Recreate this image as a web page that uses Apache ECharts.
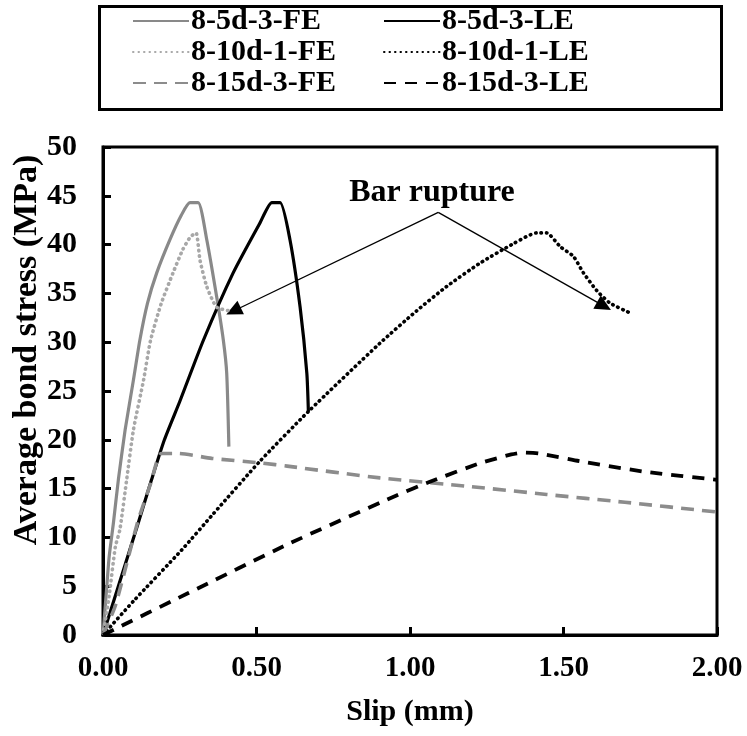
<!DOCTYPE html>
<html>
<head>
<meta charset="utf-8">
<script src="https://cdn.jsdelivr.net/npm/echarts@6/dist/echarts.min.js"></script>
<style>html,body{margin:0;padding:0;background:#fff;}#c{width:747px;height:736px;}</style>
</head>
<body>
<div id="c"></div>
<script>
// ---- Data (slip in mm, average bond stress in MPa) ----
const names = ['8-5d-3-FE', '8-5d-3-LE', '8-10d-1-FE', '8-10d-1-LE', '8-15d-3-FE', '8-15d-3-LE'];

const slip_5d_FE   = [0, 0.01, 0.02, 0.034, 0.05, 0.072, 0.099, 0.12, 0.145, 0.175, 0.218, 0.255, 0.283, 0.31, 0.338, 0.37, 0.392, 0.403, 0.41];
const stress_5d_FE = [0, 4, 8, 11.5, 15.9, 21.0, 26.1, 30.2, 34.0, 37.1, 40.5, 43.0, 44.3, 44.3, 40.5, 34.7, 30.2, 26.8, 19.3];

const slip_5d_LE   = [0, 0.05, 0.115, 0.158, 0.2, 0.251, 0.327, 0.424, 0.511, 0.55, 0.577, 0.609, 0.642, 0.664, 0.669];
const stress_5d_LE = [0, 5, 11.5, 15.9, 20.0, 24.0, 30.2, 37.1, 42.2, 44.3, 44.3, 40.5, 33.6, 26.8, 22.9];

const slip_10d_FE   = [0, 0.02, 0.04, 0.055, 0.077, 0.099, 0.132, 0.155, 0.19, 0.228, 0.26, 0.285, 0.303, 0.316, 0.338, 0.37, 0.414];
const stress_10d_FE = [0, 4, 9, 10.8, 15.9, 21.0, 26.1, 30.2, 34.0, 37.1, 39.5, 40.8, 41.2, 38.4, 35.7, 33.6, 33.2];

const slip_10d_LE   = [0, 0.1, 0.256, 0.359, 0.511, 0.669, 0.902, 1.021, 1.119, 1.228, 1.337, 1.413, 1.445, 1.489, 1.532, 1.565, 1.608, 1.652, 1.717];
const stress_10d_LE = [0, 3.5, 8.7, 12.4, 17.8, 22.9, 29.9, 33.2, 35.7, 38.1, 40.1, 41.2, 41.2, 39.8, 38.8, 37.1, 35.3, 34.0, 33.0];

const slip_15d_FE   = [0, 0.039, 0.077, 0.115, 0.155, 0.19, 0.245, 0.354, 0.522, 0.6, 0.902, 1.2, 1.445, 1.7, 2.0];
const stress_15d_FE = [0, 2.9, 7.3, 11.8, 15.5, 18.6, 18.6, 18.1, 17.6, 17.3, 16.1, 15.2, 14.4, 13.6, 12.6];

const slip_15d_LE   = [0, 0.278, 0.609, 0.956, 1.065, 1.228, 1.33, 1.369, 1.42, 1.554, 1.771, 2.0];
const stress_15d_LE = [0, 4.3, 9.4, 14.3, 15.7, 17.6, 18.5, 18.7, 18.6, 17.8, 16.7, 15.9];

const xTicks = [0, 0.5, 1.0, 1.5, 2.0];
const yTicks = [0, 5, 10, 15, 20, 25, 30, 35, 40, 45, 50];

// annotation anchor points (data coords)
const annotApex  = [1.092, 43.3];
const annotLeft  = [0.425, 33.2];
const annotRight = [1.632, 33.7];

// ---- Build ----
const zip = (xs, ys) => xs.map((x, i) => [x, ys[i]]);
const FONT = "'Liberation Serif','Times New Roman',serif";

const styles = [
  {color: '#898989', width: 3.2, type: 'solid'},
  {color: '#000000', width: 3.2, type: 'solid'},
  {color: '#a8a8a8', width: 3.6, type: [0.5, 5], cap: 'round'},
  {color: '#000000', width: 3.6, type: [0.5, 5], cap: 'round'},
  {color: '#8c8c8c', width: 3.6, type: [13, 8]},
  {color: '#000000', width: 3.8, type: [12, 9]}
];
const datas = [
  zip(slip_5d_FE, stress_5d_FE),
  zip(slip_5d_LE, stress_5d_LE),
  zip(slip_10d_FE, stress_10d_FE),
  zip(slip_10d_LE, stress_10d_LE),
  zip(slip_15d_FE, stress_15d_FE),
  zip(slip_15d_LE, stress_15d_LE)
];

const series = names.map((n, i) => ({
  name: n,
  type: 'line',
  data: datas[i],
  symbol: 'none',
  smooth: 0.2,
  lineStyle: styles[i],
  itemStyle: {color: styles[i].color},
  z: 3 + i,
  animation: false
}));

series.push({
  name: 'annot',
  type: 'line',
  data: [],
  symbol: 'none',
  silent: true,
  animation: false,
  markLine: {
    silent: true,
    animation: false,
    symbol: ['none', 'triangle'],
    symbolSize: [15, 16],
    label: {show: false},
    lineStyle: {color: '#000', width: 1.3, type: 'solid'},
    data: [
      [{coord: annotApex}, {coord: annotLeft}],
      [{coord: annotApex}, {coord: annotRight}]
    ]
  }
});

const legendPos = [
  {left: 132, top: 6}, {left: 383, top: 6},
  {left: 132, top: 37}, {left: 383, top: 37},
  {left: 132, top: 68}, {left: 383, top: 68}
];
const legends = names.map((n, i) => ({
  data: [n],
  left: legendPos[i].left,
  top: legendPos[i].top,
  padding: 0,
  itemWidth: 56,
  itemHeight: 14,
  selectedMode: false,
  itemStyle: {opacity: 0, color: 'rgba(0,0,0,0)', borderWidth: 0},
  textStyle: {fontFamily: FONT, fontWeight: 'bold', fontSize: 30, color: '#000', padding: [0, 0, 0, -3]}
}));

const chart = echarts.init(document.getElementById('c'), null, {renderer: 'canvas'});
chart.setOption({
  backgroundColor: '#fff',
  animation: false,
  legend: legends,
  grid: {left: 103, top: 147, width: 614, height: 488, show: true, borderColor: '#000', borderWidth: 3, backgroundColor: 'transparent'},
  xAxis: {
    type: 'value', min: xTicks[0], max: xTicks[xTicks.length - 1], interval: 0.5,
    name: 'Slip (mm)', nameLocation: 'middle', nameGap: 62,
    nameTextStyle: {fontFamily: FONT, fontWeight: 'bold', fontSize: 30, color: '#000'},
    axisLine: {show: true, lineStyle: {color: '#000', width: 3}},
    axisTick: {show: true, inside: true, length: 8, lineStyle: {color: '#000', width: 3}},
    axisLabel: {formatter: v => v.toFixed(2), fontFamily: FONT, fontWeight: 'bold', fontSize: 29, color: '#000', margin: 19},
    splitLine: {show: false}
  },
  yAxis: {
    type: 'value', min: yTicks[0], max: yTicks[yTicks.length - 1], interval: 5,
    axisLine: {show: true, lineStyle: {color: '#000', width: 3}},
    axisTick: {show: true, inside: true, length: 8, lineStyle: {color: '#000', width: 3}},
    axisLabel: {fontFamily: FONT, fontWeight: 'bold', fontSize: 30, color: '#000', margin: 26},
    splitLine: {show: false}
  },
  graphic: [
    {type: 'rect', left: 97, top: 4, shape: {width: 622, height: 103}, style: {fill: 'none', stroke: '#000', lineWidth: 3}, z: 10},
    {type: 'text', x: 432, y: 193, style: {text: 'Bar rupture', font: "bold 32px 'Liberation Serif','Times New Roman',serif", fill: '#000', textAlign: 'center', textVerticalAlign: 'middle'}, z: 10},
    {type: 'text', x: 27, y: 350, rotation: Math.PI / 2, style: {text: 'Average bond stress (MPa)', font: "bold 34px 'Liberation Serif','Times New Roman',serif", fill: '#000', textAlign: 'center', textVerticalAlign: 'middle'}, z: 10}
  ],
  series: series
});
</script>
</body>
</html>
